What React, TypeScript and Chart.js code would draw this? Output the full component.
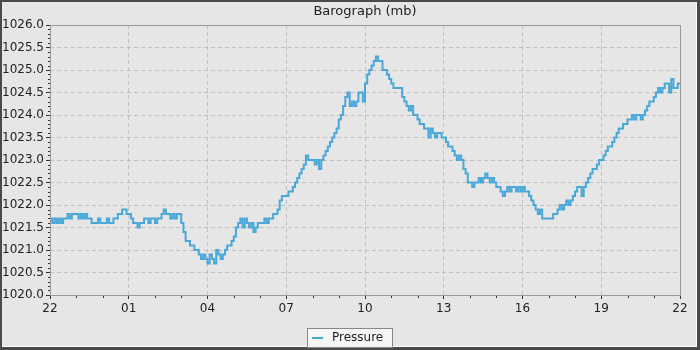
import React, { useEffect, useRef } from 'react';
import { Chart, registerables } from 'chart.js';

Chart.register(...registerables);

const chartTitle = 'Barograph (mb)';
const seriesLabel = 'Pressure';
const stepMinutes = 5;
const xTickLabels = ['22', '01', '04', '07', '10', '13', '16', '19', '22'];
const xTickStepHours = 3;
const yMin = 1020;
const yMax = 1026;
const yStep = 0.5;

// pressure readings (mb), one every 5 minutes, from 22:00 to 22:00 next day
const pressure = [
  1021.7, 1021.6, 1021.7, 1021.6, 1021.7, 1021.6, 1021.7, 1021.7, 1021.8, 1021.7, 1021.8, 1021.8,
  1021.8, 1021.7, 1021.8, 1021.7, 1021.8, 1021.7, 1021.7, 1021.6, 1021.6, 1021.6, 1021.7, 1021.6,
  1021.6, 1021.6, 1021.7, 1021.6, 1021.6, 1021.7, 1021.7, 1021.8, 1021.8, 1021.9, 1021.9, 1021.8,
  1021.8, 1021.7, 1021.6, 1021.6, 1021.5, 1021.6, 1021.6, 1021.7, 1021.7, 1021.6, 1021.7, 1021.7,
  1021.6, 1021.7, 1021.7, 1021.8, 1021.9, 1021.8, 1021.8, 1021.7, 1021.8, 1021.7, 1021.8, 1021.8,
  1021.6, 1021.4, 1021.2, 1021.2, 1021.1, 1021.1, 1021.0, 1021.0, 1020.9, 1020.8, 1020.9, 1020.8,
  1020.7, 1020.9, 1020.8, 1020.7, 1021.0, 1020.9, 1020.8, 1020.9, 1021.0, 1021.1, 1021.1, 1021.2,
  1021.3, 1021.5, 1021.6, 1021.7, 1021.5, 1021.7, 1021.6, 1021.5, 1021.6, 1021.4, 1021.5, 1021.6,
  1021.6, 1021.6, 1021.7, 1021.6, 1021.7, 1021.7, 1021.8, 1021.8, 1021.9, 1022.1, 1022.2, 1022.2,
  1022.2, 1022.3, 1022.3, 1022.4, 1022.5, 1022.6, 1022.7, 1022.8, 1022.9, 1023.1, 1023.0, 1023.0,
  1023.0, 1022.9, 1023.0, 1022.8, 1023.0, 1023.1, 1023.2, 1023.3, 1023.4, 1023.5, 1023.6, 1023.7,
  1023.9, 1024.0, 1024.2, 1024.4, 1024.5, 1024.2, 1024.3, 1024.2, 1024.3, 1024.5, 1024.5, 1024.3,
  1024.7, 1024.9, 1025.0, 1025.1, 1025.2, 1025.3, 1025.2, 1025.2, 1025.0, 1025.0, 1024.9, 1024.8,
  1024.7, 1024.6, 1024.6, 1024.6, 1024.6, 1024.4, 1024.3, 1024.2, 1024.1, 1024.2, 1024.0, 1024.0,
  1023.9, 1023.8, 1023.8, 1023.7, 1023.7, 1023.5, 1023.7, 1023.6, 1023.5, 1023.6, 1023.6, 1023.5,
  1023.5, 1023.4, 1023.3, 1023.3, 1023.2, 1023.1, 1023.0, 1023.1, 1023.0, 1022.8, 1022.7, 1022.5,
  1022.5, 1022.4, 1022.5, 1022.5, 1022.6, 1022.5, 1022.6, 1022.7, 1022.6, 1022.5, 1022.6, 1022.5,
  1022.4, 1022.4, 1022.3, 1022.2, 1022.3, 1022.4, 1022.3, 1022.4, 1022.4, 1022.3, 1022.4, 1022.3,
  1022.4, 1022.3, 1022.3, 1022.2, 1022.1, 1022.0, 1021.9, 1021.8, 1021.9, 1021.7, 1021.7, 1021.7,
  1021.7, 1021.7, 1021.8, 1021.8, 1021.9, 1022.0, 1021.9, 1022.0, 1022.1, 1022.0, 1022.1, 1022.2,
  1022.3, 1022.4, 1022.4, 1022.2, 1022.4, 1022.5, 1022.6, 1022.7, 1022.8, 1022.8, 1022.9, 1023.0,
  1023.0, 1023.1, 1023.2, 1023.3, 1023.3, 1023.4, 1023.5, 1023.6, 1023.7, 1023.7, 1023.8, 1023.8,
  1023.9, 1023.9, 1024.0, 1023.9, 1024.0, 1024.0, 1023.9, 1024.0, 1024.1, 1024.2, 1024.3, 1024.3,
  1024.4, 1024.5, 1024.6, 1024.5, 1024.6, 1024.7, 1024.7, 1024.5, 1024.8, 1024.6, 1024.6, 1024.7,
  1024.7,
];

const FONT = 'DejaVu Sans';
const LINE_COLOR = '#4aa8d8';
const BG = '#e6e6e6';

const decorPlugin = {
  id: 'decor',
  beforeDraw(chart: any) {
    const { ctx, width, height } = chart;
    ctx.save();
    ctx.fillStyle = '#4a4a4a';
    ctx.fillRect(0, 0, width, height);
    ctx.fillStyle = '#ffffff';
    ctx.fillRect(2, 2, width - 5, height - 5);
    ctx.fillStyle = BG;
    ctx.fillRect(2, 2, width - 6, height - 6);
    ctx.restore();
  },
  afterDraw(chart: any) {
    const { ctx, chartArea, width } = chart;
    const xs = chart.scales.x;
    const ys = chart.scales.y;
    ctx.save();
    // minor ticks
    ctx.strokeStyle = '#333';
    ctx.lineWidth = 1;
    ctx.beginPath();
    const nY = Math.round((yMax - yMin) * 10);
    for (let k = 0; k <= nY; k++) {
      if (k % 5 === 0) continue;
      const py = Math.round(ys.getPixelForValue(yMin + k / 10)) + 0.5;
      ctx.moveTo(chartArea.left - 2, py);
      ctx.lineTo(chartArea.left, py);
    }
    const nX = (xTickLabels.length - 1) * xTickStepHours;
    for (let h = 0; h <= nX; h++) {
      if (h % xTickStepHours === 0) continue;
      const px = Math.round(xs.getPixelForValue(h)) + 0.5;
      ctx.moveTo(px, chartArea.bottom);
      ctx.lineTo(px, chartArea.bottom + 3);
    }
    ctx.stroke();
    // plot frame
    ctx.strokeStyle = '#999';
    ctx.strokeRect(
      Math.round(chartArea.left) + 0.5,
      Math.round(chartArea.top) + 0.5,
      Math.round(chartArea.right - chartArea.left),
      Math.round(chartArea.bottom - chartArea.top)
    );
    // title
    ctx.fillStyle = '#222';
    ctx.font = `13px "${FONT}"`;
    ctx.textAlign = 'center';
    ctx.textBaseline = 'middle';
    ctx.fillText(chartTitle, (chartArea.left + chartArea.right) / 2, 12);
    // legend
    ctx.font = `12px "${FONT}"`;
    const tw = ctx.measureText(seriesLabel).width;
    const boxW = Math.round(tw + 35);
    const boxH = 19;
    const bx = Math.round(width / 2 - boxW / 2);
    const by = 328;
    ctx.fillStyle = '#f6f6f6';
    ctx.fillRect(bx, by, boxW, boxH);
    ctx.strokeStyle = '#888';
    ctx.strokeRect(bx + 0.5, by + 0.5, boxW - 1, boxH);
    ctx.strokeStyle = LINE_COLOR;
    ctx.lineWidth = 2;
    ctx.beginPath();
    ctx.moveTo(bx + 5, by + 10);
    ctx.lineTo(bx + 16, by + 10);
    ctx.stroke();
    ctx.fillStyle = '#222';
    ctx.textAlign = 'left';
    ctx.fillText(seriesLabel, bx + 25, by + 10);
    ctx.restore();
  },
};

export default function App() {
  const ref = useRef<HTMLCanvasElement | null>(null);
  useEffect(() => {
    if (!ref.current) return;
    Chart.defaults.font.family = FONT;
    Chart.defaults.font.size = 12;
    Chart.defaults.color = '#222';
    const data = pressure.map((v, i) => ({ x: (i * stepMinutes) / 60, y: v }));
    const chart = new Chart(ref.current, {
      type: 'line',
      data: {
        datasets: [
          {
            label: seriesLabel,
            data,
            borderColor: LINE_COLOR,
            backgroundColor: LINE_COLOR,
            borderWidth: 2,
            pointRadius: 0,
            stepped: true,
            fill: false,
          },
        ],
      },
      options: {
        responsive: false,
        animation: false,
        events: [],
        layout: { padding: { left: 0, top: 25, right: 20, bottom: 35 } },
        plugins: {
          legend: { display: false },
          title: { display: false },
          tooltip: { enabled: false },
        },
        scales: {
          x: {
            type: 'linear',
            min: 0,
            max: (xTickLabels.length - 1) * xTickStepHours,
            afterFit: (s: any) => {
              s.height = 20;
            },
            ticks: {
              stepSize: xTickStepHours,
              autoSkip: false,
              maxRotation: 0,
              padding: 3,
              color: '#222',
              callback: (v: any) => xTickLabels[Math.round(Number(v) / xTickStepHours)] ?? '',
            },
            grid: {
              color: '#c0c0c0',
              lineWidth: 1,
              drawTicks: true,
              tickLength: 4,
              tickColor: '#333',
            },
            border: { display: false, dash: [4, 3] },
          },
          y: {
            type: 'linear',
            min: yMin,
            max: yMax,
            afterFit: (s: any) => {
              s.width = 50;
            },
            ticks: {
              stepSize: yStep,
              autoSkip: false,
              padding: 2,
              color: '#222',
              callback: (v: any) => Number(v).toFixed(1),
            },
            grid: {
              color: '#c0c0c0',
              lineWidth: 1,
              drawTicks: true,
              tickLength: 4,
              tickColor: '#333',
            },
            border: { display: false, dash: [4, 3] },
          },
        },
      },
      plugins: [decorPlugin],
    });
    return () => chart.destroy();
  }, []);
  return (
    <div style={{ position: 'absolute', left: 0, top: 0, width: 700, height: 350 }}>
      <canvas ref={ref} width={700} height={350} />
    </div>
  );
}
